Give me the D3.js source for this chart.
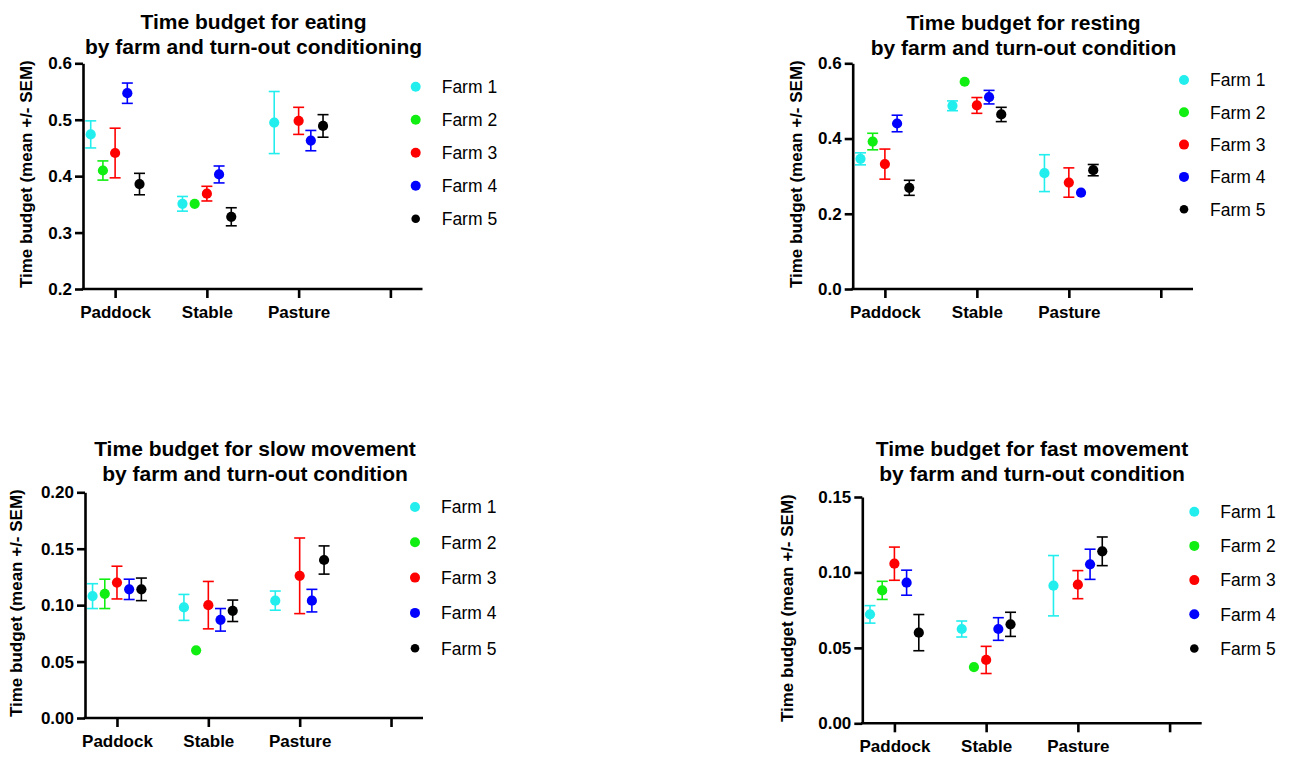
<!DOCTYPE html>
<html>
<head>
<meta charset="utf-8">
<script src="https://cdn.jsdelivr.net/npm/d3@7"></script>
<style>
  body { margin: 0; background: #fff; }
  svg text { font-family: "Liberation Sans", Arial, Helvetica, sans-serif; fill: #000; }
</style>
</head>
<body>
<svg id="fig" width="1290" height="758"></svg>
<script>
// ---- data ----
var conditions = ['Paddock', 'Stable', 'Pasture'];
var axisSlots = ['Paddock', 'Stable', 'Pasture', ' ']; // 4th tick is blank in the original
var farms = ['Farm 1', 'Farm 2', 'Farm 3', 'Farm 4', 'Farm 5'];

// rows = farms, columns = Paddock, Stable, Pasture (null = no data)
var eatingMean = [
    [0.474, 0.351, 0.495],
    [0.410, 0.351, null],
    [0.441, 0.369, 0.498],
    [0.547, 0.403, 0.463],
    [0.386, 0.328, 0.489]
];
var eatingSem = [
    [0.024, 0.013, 0.055],
    [0.017, 0, null],
    [0.044, 0.013, 0.024],
    [0.018, 0.015, 0.018],
    [0.019, 0.016, 0.020]
];
var restingMean = [
    [0.346, 0.487, 0.308],
    [0.392, 0.551, null],
    [0.332, 0.488, 0.283],
    [0.440, 0.510, 0.256],
    [0.269, 0.464, 0.316]
];
var restingSem = [
    [0.016, 0.013, 0.049],
    [0.022, 0, null],
    [0.040, 0.021, 0.039],
    [0.022, 0.018, 0],
    [0.020, 0.019, 0.015]
];
var slowMean = [
    [0.108, 0.098, 0.104],
    [0.110, 0.060, null],
    [0.120, 0.100, 0.126],
    [0.114, 0.087, 0.104],
    [0.114, 0.095, 0.140]
];
var slowSem = [
    [0.011, 0.0115, 0.0085],
    [0.013, 0, null],
    [0.0145, 0.021, 0.0335],
    [0.009, 0.010, 0.010],
    [0.010, 0.0095, 0.0125]
];
var fastMean = [
    [0.0722, 0.0625, 0.0912],
    [0.0881, 0.0373, null],
    [0.1058, 0.0420, 0.0919],
    [0.0932, 0.0625, 0.1054],
    [0.0601, 0.0656, 0.1140]
];
var fastSem = [
    [0.0058, 0.0053, 0.020],
    [0.006, 0, null],
    [0.011, 0.009, 0.0093],
    [0.0083, 0.0075, 0.010],
    [0.012, 0.008, 0.0095]
];

var eatingTicks = [0.2, 0.3, 0.4, 0.5, 0.6];
var restingTicks = [0.0, 0.2, 0.4, 0.6];
var slowTicks = [0.00, 0.05, 0.10, 0.15, 0.20];
var fastTicks = [0.00, 0.05, 0.10, 0.15];

var farmColors = ['#22eeee', '#11ee11', '#ff0000', '#0000ff', '#000000'];

// ---- layout of the four panels ----
var panels = [
    { title: ['Time budget for eating', 'by farm and turn-out conditioning'],
      mean: eatingMean, sem: eatingSem, ticks: eatingTicks, fmt: '.1f',
      x0: 83, x1: 422.5, y0: 63.3, y1: 289,
      titleX: 253.5, titleY: 28.5, ylabX: 26,
      legX: 415.7, legY: 86.7, legStep: 33 },
    { title: ['Time budget for resting', 'by farm and turn-out condition'],
      mean: restingMean, sem: restingSem, ticks: restingTicks, fmt: '.1f',
      x0: 852.7, x1: 1193, y0: 63.3, y1: 289,
      titleX: 1023.5, titleY: 30, ylabX: 796,
      legX: 1184, legY: 80, legStep: 32.3 },
    { title: ['Time budget for slow movement', 'by farm and turn-out condition'],
      mean: slowMean, sem: slowSem, ticks: slowTicks, fmt: '.2f',
      x0: 85, x1: 423, y0: 492.3, y1: 718,
      titleX: 255, titleY: 456, ylabX: 16,
      legX: 415, legY: 507, legStep: 35.3 },
    { title: ['Time budget for fast movement', 'by farm and turn-out condition'],
      mean: fastMean, sem: fastSem, ticks: fastTicks, fmt: '.2f',
      x0: 862.3, x1: 1201.7, y0: 497, y1: 723.3,
      titleX: 1032, titleY: 456, ylabX: 787.5,
      legX: 1194.3, legY: 511.7, legStep: 34.2 }
];

var svg = d3.select('#fig');

// farm offset within a condition
var farmScale = d3.scalePoint().domain(farms).range([-24.4, 24.4]);

panels.forEach(function(p) {
    var g = svg.append('g');

    var xScale = d3.scalePoint()
                    .domain(axisSlots)
                    .range([p.x0, p.x1])
                    .padding(0.35);
    var yScale = d3.scaleLinear()
                    .domain(d3.extent(p.ticks))
                    .range([p.y1, p.y0]);

    // title
    g.append('text')
        .attr('x', p.titleX).attr('y', p.titleY)
        .attr('text-anchor', 'middle')
        .style('font-size', '21px').style('font-weight', 'bold')
        .text(p.title[0]);
    g.append('text')
        .attr('x', p.titleX).attr('y', p.titleY + 25)
        .attr('text-anchor', 'middle')
        .style('font-size', '21px').style('font-weight', 'bold')
        .text(p.title[1]);

    // axes
    var yAxis = d3.axisLeft(yScale)
                    .tickValues(p.ticks)
                    .tickSize(8)
                    .tickSizeOuter(0)
                    .tickPadding(3)
                    .tickFormat(d3.format(p.fmt));
    var yG = g.append('g')
                .attr('transform', 'translate(' + p.x0 + ',0)')
                .call(yAxis);
    var xAxis = d3.axisBottom(xScale)
                    .tickSize(9)
                    .tickSizeOuter(0)
                    .tickPadding(8);
    var xG = g.append('g')
                .attr('transform', 'translate(0,' + p.y1 + ')')
                .call(xAxis);

    [yG, xG].forEach(function(a) {
        a.select('.domain').attr('stroke', '#000').attr('stroke-width', 2.6);
        a.selectAll('.tick line').attr('stroke', '#000').attr('stroke-width', 2.6);
        a.selectAll('.tick text')
            .style('font-size', '17px').style('font-weight', 'bold')
            .attr('fill', '#000');
    });
    // extend x-axis line back to the y-axis
    xG.select('.domain').attr('d', 'M' + (p.x0 - 1.3) + ',0H' + p.x1);

    // y label
    g.append('text')
        .attr('transform', 'translate(' + p.ylabX + ',' + ((p.y0 + p.y1) / 2 - 2) + ') rotate(-90)')
        .attr('text-anchor', 'middle')
        .attr('dy', '0.35em')
        .style('font-size', '17px').style('font-weight', 'bold')
        .text('Time budget (mean +/- SEM)');

    // points + error bars
    farms.forEach(function(f, fi) {
        var pts = conditions.map(function(c, ci) {
            return { cond: c, mean: p.mean[fi][ci], sem: p.sem[fi][ci] };
        }).filter(function(d) { return d.mean !== null; });

        var fg = g.append('g');
        var cx = function(d) { return xScale(d.cond) + farmScale(f); };

        var bars = pts.filter(function(d) { return d.sem > 0; });
        fg.selectAll('line.err')
            .data(bars).enter().append('line')
            .attr('x1', cx).attr('x2', cx)
            .attr('y1', function(d) { return yScale(d.mean - d.sem); })
            .attr('y2', function(d) { return yScale(d.mean + d.sem); })
            .attr('stroke', farmColors[fi]).attr('stroke-width', 1.6);
        fg.selectAll('line.capTop')
            .data(bars).enter().append('line')
            .attr('x1', function(d) { return cx(d) - 5.5; })
            .attr('x2', function(d) { return cx(d) + 5.5; })
            .attr('y1', function(d) { return yScale(d.mean + d.sem); })
            .attr('y2', function(d) { return yScale(d.mean + d.sem); })
            .attr('stroke', farmColors[fi]).attr('stroke-width', 1.6);
        fg.selectAll('line.capBot')
            .data(bars).enter().append('line')
            .attr('x1', function(d) { return cx(d) - 5.5; })
            .attr('x2', function(d) { return cx(d) + 5.5; })
            .attr('y1', function(d) { return yScale(d.mean - d.sem); })
            .attr('y2', function(d) { return yScale(d.mean - d.sem); })
            .attr('stroke', farmColors[fi]).attr('stroke-width', 1.6);
        fg.selectAll('circle')
            .data(pts).enter().append('circle')
            .attr('cx', cx)
            .attr('cy', function(d) { return yScale(d.mean); })
            .attr('r', 5.1)
            .attr('fill', farmColors[fi]);
    });

    // legend
    var leg = g.append('g');
    farms.forEach(function(f, fi) {
        var ly = p.legY + fi * p.legStep;
        leg.append('circle')
            .attr('cx', p.legX).attr('cy', ly)
            .attr('r', fi === 4 ? 4.3 : 5)
            .attr('fill', farmColors[fi]);
        leg.append('text')
            .attr('x', p.legX + 26).attr('y', ly)
            .attr('dy', '0.36em')
            .style('font-size', '17.5px')
            .text(f);
    });
});
</script>
</body>
</html>
